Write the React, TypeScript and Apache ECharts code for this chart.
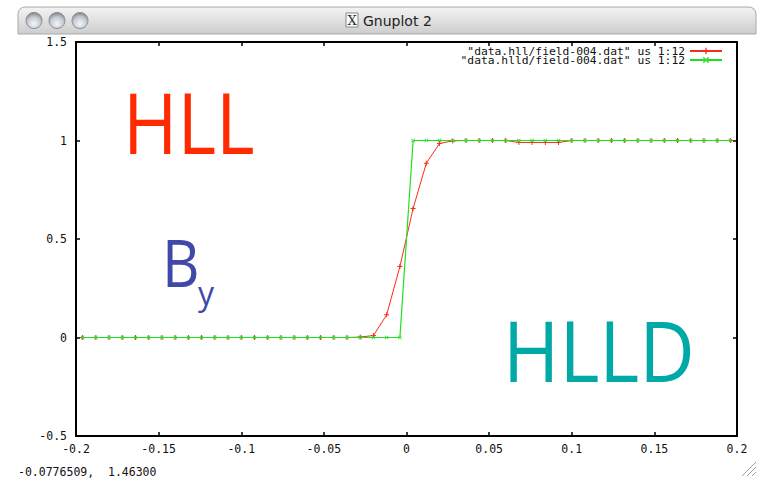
import React, { useEffect, useRef } from 'react';
import * as echarts from 'echarts';

// cell centres (x) of the two runs
const xs = [
  -0.196, -0.188, -0.18, -0.172, -0.164, -0.156, -0.148, -0.14, -0.132, -0.124,
  -0.116, -0.108, -0.1, -0.092, -0.084, -0.076, -0.068, -0.06, -0.052, -0.044,
  -0.036, -0.028, -0.02, -0.012, -0.004, 0.004, 0.012, 0.02, 0.028, 0.036,
  0.044, 0.052, 0.06, 0.068, 0.076, 0.084, 0.092, 0.1, 0.108, 0.116,
  0.124, 0.132, 0.14, 0.148, 0.156, 0.164, 0.172, 0.18, 0.188, 0.196,
];

// By column (1:12) from data.hll/field-004.dat
const hll = [
  0, 0, 0, 0, 0, 0, 0, 0, 0, 0,
  0, 0, 0, 0, 0, 0, 0, 0, 0, 0,
  0, 0.002, 0.01, 0.115, 0.36, 0.655, 0.885, 0.985, 0.998, 1,
  1, 1, 1, 0.99, 0.99, 0.99, 0.99, 1, 1, 1,
  1, 1, 1, 1, 1, 1, 1, 1, 1, 1,
];

// By column (1:12) from data.hlld/field-004.dat
const hlld = [
  0, 0, 0, 0, 0, 0, 0, 0, 0, 0,
  0, 0, 0, 0, 0, 0, 0, 0, 0, 0,
  0, 0, 0, 0, 0, 1, 1, 1, 1, 1,
  1, 1, 1, 1, 1, 1, 1, 1, 1, 1,
  1, 1, 1, 1, 1, 1, 1, 1, 1, 1,
];

const seriesNames = [
  '"data.hll/field-004.dat" us 1:12',
  '"data.hlld/field-004.dat" us 1:12',
];

const xMin = -0.2;
const xMax = 0.2;
const xStep = 0.05;
const yMin = -0.5;
const yMax = 1.5;
const yStep = 0.5;

const statusText = '-0.0776509,  1.46300';
const windowTitle = 'Gnuplot 2';

const MONO = "'DejaVu Sans Mono', monospace";
const SANS = "'Open Sans', sans-serif";
const plusSymbol = 'path://M1.6,0H2.4V1.6H4V2.4H2.4V4H1.6V2.4H0V1.6H1.6Z';
const crossSymbol = 'path://M0,0.6L0.6,0L2,1.4L3.4,0L4,0.6L2.6,2L4,3.4L3.4,4L2,2.6L0.6,4L0,3.4L1.4,2Z';

const fmt = (v: number) => String(parseFloat(v.toFixed(3)));

export default function App() {
  const ref = useRef<HTMLDivElement>(null);
  useEffect(() => {
    if (!ref.current) return;
    const chart = echarts.init(ref.current, null, { renderer: 'svg' });
    const axisLine = { show: true, onZero: false, lineStyle: { color: '#000', width: 2 } };
    const axisTick = { show: true, inside: true, length: 4, lineStyle: { color: '#000', width: 1.5 } };
    const labelStyle = { color: '#111', fontFamily: MONO, fontSize: 11.5 };
    const option: any = {
      animation: false,
      backgroundColor: '#ffffff',
      grid: { left: 76, right: 23, top: 42, bottom: 44, containLabel: false },
      xAxis: [
        {
          type: 'value', min: xMin, max: xMax, interval: xStep, position: 'bottom',
          axisLine, axisTick, splitLine: { show: false },
          axisLabel: { ...labelStyle, margin: 7, formatter: fmt },
        },
        {
          type: 'value', min: xMin, max: xMax, interval: xStep, position: 'top',
          axisLine, axisTick, splitLine: { show: false }, axisLabel: { show: false },
        },
      ],
      yAxis: [
        {
          type: 'value', min: yMin, max: yMax, interval: yStep, position: 'left',
          axisLine, axisTick, splitLine: { show: false },
          axisLabel: { ...labelStyle, margin: 9, formatter: fmt },
        },
        {
          type: 'value', min: yMin, max: yMax, interval: yStep, position: 'right',
          axisLine, axisTick, splitLine: { show: false }, axisLabel: { show: false },
        },
      ],
      legend: {
        orient: 'vertical',
        right: 37,
        top: 45.5,
        align: 'right',
        padding: 0,
        itemGap: -2,
        itemWidth: 32,
        itemHeight: 8,
        textStyle: { ...labelStyle, fontSize: 11.3, padding: [0, 0, 0, 0] },
        data: seriesNames,
      },
      series: [
        {
          name: seriesNames[0], type: 'line', xAxisIndex: 0, yAxisIndex: 0,
          data: xs.map((x, i) => [x, hll[i]]),
          symbol: plusSymbol, symbolSize: 5, showSymbol: true,
          lineStyle: { color: '#ff2a1a', width: 1 },
          itemStyle: { color: '#ff2a1a' },
          z: 2,
        },
        {
          name: seriesNames[1], type: 'line', xAxisIndex: 0, yAxisIndex: 0,
          data: xs.map((x, i) => [x, hlld[i]]),
          symbol: crossSymbol, symbolSize: 4, showSymbol: true,
          lineStyle: { color: '#1fe01f', width: 1.2 },
          itemStyle: { color: '#33dd33' },
          z: 3,
        },
      ],
      graphic: [
        // title bar
        {
          type: 'rect', shape: { x: 18, y: 7, width: 738, height: 27, r: [7, 7, 0, 0] },
          style: {
            fill: new echarts.graphic.LinearGradient(0, 0, 0, 1, [
              { offset: 0, color: '#f4f4f4' }, { offset: 1, color: '#cdcdcd' },
            ]),
            stroke: '#a8a8a8', lineWidth: 1,
          },
          z: 10,
        },
        ...[34, 57, 80].map((cx) => ({
          type: 'circle', shape: { cx, cy: 20.5, r: 8 },
          style: {
            fill: new echarts.graphic.RadialGradient(0.5, 0.7, 0.7, [
              { offset: 0, color: '#f4f6f8' }, { offset: 0.6, color: '#c5cad0' }, { offset: 1, color: '#7d838b' },
            ]),
            stroke: '#8a8f96', lineWidth: 1,
          },
          z: 11,
        })),
        {
          type: 'rect', shape: { x: 346, y: 13, width: 12, height: 14 },
          style: { fill: '#fafafa', stroke: '#888', lineWidth: 1 }, z: 11,
        },
        {
          type: 'text', x: 352, y: 20.5,
          style: { text: 'X', fill: '#333', fontFamily: "'DejaVu Serif', serif", fontSize: 13, textAlign: 'center', textVerticalAlign: 'middle' },
          z: 12,
        },
        {
          type: 'text', x: 363, y: 20.5,
          style: { text: windowTitle, fill: '#222', fontFamily: "'DejaVu Sans', sans-serif", fontSize: 14, textAlign: 'left', textVerticalAlign: 'middle' },
          z: 12,
        },
        // annotations
        {
          type: 'text', x: 123, y: 121, scaleX: 0.88,
          style: { text: 'HLL', fill: '#ff2a00', fontFamily: SANS, fontWeight: 400, fontSize: 84, textAlign: 'left', textVerticalAlign: 'middle' },
          z: 5,
        },
        {
          type: 'text', x: 162, y: 261.5, scaleX: 0.88,
          style: { text: 'B', fill: '#4048a8', fontFamily: SANS, fontWeight: 400, fontSize: 66, textAlign: 'left', textVerticalAlign: 'middle' },
          z: 5,
        },
        {
          type: 'text', x: 198, y: 292,
          style: { text: 'y', fill: '#4048a8', fontFamily: SANS, fontWeight: 400, fontSize: 32, textAlign: 'left', textVerticalAlign: 'middle' },
          z: 5,
        },
        {
          type: 'text', x: 503, y: 349.5, scaleX: 0.9,
          style: { text: 'HLLD', fill: '#00a9a5', fontFamily: SANS, fontWeight: 400, fontSize: 85, textAlign: 'left', textVerticalAlign: 'middle' },
          z: 5,
        },
        // status line
        {
          type: 'text', x: 18, y: 472,
          style: { text: statusText, fill: '#111', fontFamily: MONO, fontSize: 11.5, textAlign: 'left', textVerticalAlign: 'middle' },
          z: 5,
        },
        // resize grip
        ...[4, 9, 14].map((d) => ({
          type: 'line', shape: { x1: 756, y1: 476 - d, x2: 756 - d, y2: 476 },
          style: { stroke: '#a0a0a0', lineWidth: 1 },
          z: 5,
        })),
      ],
    };
    chart.setOption(option);
    return () => chart.dispose();
  }, []);
  return <div ref={ref} style={{ position: 'fixed', left: 0, top: 0, width: 760, height: 480 }} />;
}
